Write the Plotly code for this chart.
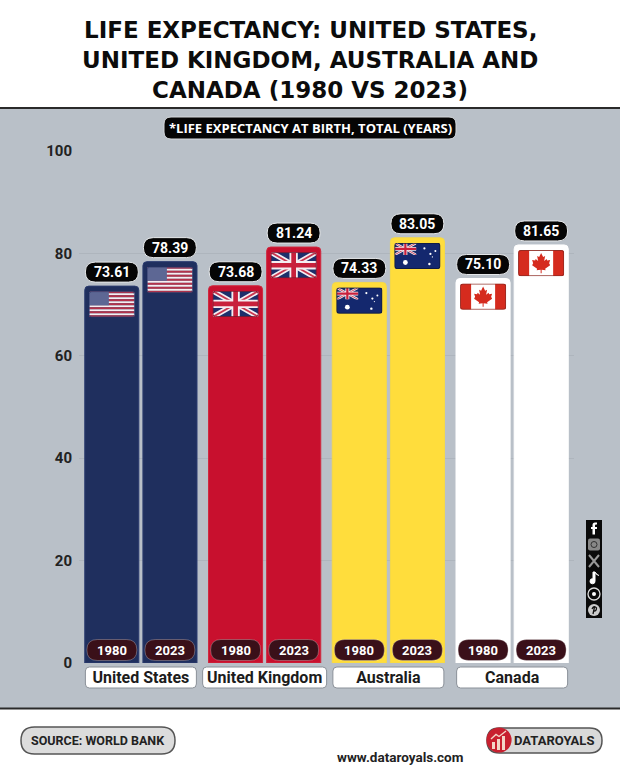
import base64
import plotly.graph_objects as go

W, H = 620, 775

countries = ["United States", "United Kingdom", "Australia", "Canada"]
life_1980 = [73.61, 73.68, 74.33, 75.10]
life_2023 = [78.39, 81.24, 83.05, 81.65]
years = ["1980", "2023"]
bar_colors = ["#1f2f5e", "#c8102e", "#ffdd3c", "#ffffff"]
edge_colors = ["#2c3d70", "#d0283f", "#f5d948", "#ffffff"]
label_widths = [111, 124, 111, 111]
y_ticks = [0, 20, 40, 60, 80, 100]

title_lines = ["LIFE EXPECTANCY: UNITED STATES,", "UNITED KINGDOM, AUSTRALIA AND", "CANADA (1980 VS 2023)"]
subtitle = "*LIFE EXPECTANCY AT BIRTH, TOTAL (YEARS)"
source = "SOURCE: WORLD BANK"
brand = "DATAROYALS"
website = "www.dataroyals.com"

FONT = "Roboto"
BAR_OFFSET = 0.2345


def px(x):
    return x / W


def py(y):
    return 1 - y / H


def rounded(w, h, r, dy=0):
    # rounded rectangle around the anchor, pixel offsets
    x0, x1, y0, y1 = -w / 2, w / 2, dy - h / 2, dy + h / 2
    return (f"M{x0 + r},{y0} L{x1 - r},{y0} Q{x1},{y0} {x1},{y0 + r} L{x1},{y1 - r} Q{x1},{y1} {x1 - r},{y1} "
            f"L{x0 + r},{y1} Q{x0},{y1} {x0},{y1 - r} L{x0},{y0 + r} Q{x0},{y0} {x0 + r},{y0} Z")


def pill(x, y, w, h, r, fill, line, lw=1, xref="x", yref="y", dy=0, layer="above"):
    return dict(type="path", xref=xref, yref=yref, xsizemode="pixel", ysizemode="pixel",
                xanchor=x, yanchor=y, path=rounded(w, h, r, dy), fillcolor=fill,
                line=dict(color=line, width=lw), layer=layer)


def note(x, y, text, size, color, family=FONT, **kw):
    return dict(x=x, y=y, text=f"<b>{text}</b>", showarrow=False, xanchor="center", yanchor="middle",
                font=dict(family=family, size=size, color=color), **kw)


def svg_uri(body, w=46, h=26):
    svg = f'<svg xmlns="http://www.w3.org/2000/svg" width="{w * 4}" height="{h * 4}" viewBox="0 0 {w} {h}">{body}</svg>'
    return "data:image/svg+xml;base64," + base64.b64encode(svg.encode()).decode()


def union_jack(w, h):
    return (f'<rect width="{w}" height="{h}" fill="#1d2f6b"/>'
            f'<path d="M0,0L{w},{h}M{w},0L0,{h}" stroke="#f4eef2" stroke-width="{h * 0.2}"/>'
            f'<path d="M0,0L{w},{h}M{w},0L0,{h}" stroke="#c8364f" stroke-width="{h * 0.07}"/>'
            f'<path d="M{w / 2},0V{h}M0,{h / 2}H{w}" stroke="#f4eef2" stroke-width="{h * 0.32}"/>'
            f'<path d="M{w / 2},0V{h}M0,{h / 2}H{w}" stroke="#c8203c" stroke-width="{h * 0.18}"/>')


def clip_flag(body, edge):
    return (f'<defs><clipPath id="c"><rect width="46" height="26" rx="2.5"/></clipPath></defs>'
            f'<g clip-path="url(#c)">{body}</g>'
            f'<rect x=".4" y=".4" width="45.2" height="25.2" rx="2.5" fill="none" stroke="{edge}" stroke-width=".9"/>')


stripes = "".join(f'<rect y="{k * 2}" width="46" height="2" fill="{"#b5324a" if k % 2 == 0 else "#f6eef0"}"/>' for k in range(13))
flag_us = clip_flag(stripes + '<rect width="20" height="14" fill="#5d6794"/>', "#3a4674")
flag_uk = clip_flag(union_jack(46, 26), "#7c1a2c")
stars = "".join(f'<circle cx="{a}" cy="{b}" r="{c}" fill="#fff"/>' for a, b, c in
                [(11, 19.5, 2.4), (30, 5.5, 1.1), (36, 11, 1.1), (41, 8, 1), (35, 21, 1.2), (38, 14, .6)])
flag_au = clip_flag('<rect width="46" height="26" fill="#14286e"/><svg width="22" height="12" viewBox="0 0 46 26" preserveAspectRatio="none">'
                    + union_jack(46, 26) + '</svg>' + stars, "#101a3a")
leaf = ("M23,3 L25,7 L27,6 L26,11 L28.5,9 L29,10.5 L32,10 L31,13 L32,15 L27,18.5 L27.5,20 L23.5,19.5 L23.5,23 "
        "L22.5,23 L22.5,19.5 L18.5,20 L19,18.5 L14,15 L15,13 L14,10 L17,10.5 L17.5,9 L20,11 L19,6 L21,7 Z")
flag_ca = clip_flag(f'<rect width="46" height="26" fill="#fff"/><rect width="11" height="26" fill="#d52b1e"/>'
                    f'<rect x="35" width="11" height="26" fill="#d52b1e"/><path d="{leaf}" fill="#d52b1e"/>', "#8c2a22")
flags = [flag_us, flag_uk, flag_au, flag_ca]

logo = ('<circle cx="13" cy="13" r="12.6" fill="#c8202f"/>'
        '<rect x="6" y="15" width="3" height="7" fill="#f3d6c8"/><rect x="11" y="12" width="3" height="11" fill="#f3d6c8"/>'
        '<rect x="16" y="9" width="3" height="14" fill="#f3d6c8"/>'
        '<path d="M5,12 L10,7.5 L13,9.5 L20,4" fill="none" stroke="#f3d6c8" stroke-width="1.4"/>')

icons = ('<rect width="16" height="98" fill="#0a0a0a"/>'
         '<path d="M9,14 V8.5 H11 V6.5 H9 V5 Q9,4 10,4 H11 V2 H9 Q6.5,2 6.5,4.5 V6.5 H5 V8.5 H6.5 V14 Z" fill="#fff" transform="translate(0,.5)"/>'
         '<rect x="2" y="18.5" width="12" height="12" rx="2" fill="#888"/><circle cx="8" cy="24.5" r="3" fill="none" stroke="#333"/>'
         '<path d="M3,35 L13,47 M13,35 L3,47" stroke="#999" stroke-width="2"/>'
         '<path d="M9,52 V61 A2.5,2.5 0 1 1 7,58.8 V52 Z M9,52 Q10,55 13,55.5" fill="#fff" stroke="#fff"/>'
         '<circle cx="8" cy="74" r="6" fill="none" stroke="#ddd" stroke-width="1.3"/><circle cx="8" cy="74" r="2" fill="#fff"/>'
         '<circle cx="8" cy="90" r="6" fill="#ccc"/><path d="M7,94 L8.5,87 M6,89 Q8,85 10.5,88 Q10.5,91.5 7.5,91" fill="none" stroke="#111" stroke-width="1.3"/>')

fig = go.Figure()
for values, year in [(life_1980, years[0]), (life_2023, years[1])]:
    fig.add_trace(go.Bar(x=countries, y=values, name=year, marker=dict(
        color=bar_colors, line=dict(color=edge_colors, width=1), cornerradius=4)))

shapes = []
annotations = []
images = []

# panel behind the chart
shapes.append(dict(type="rect", xref="paper", yref="paper", x0=0, x1=1, y0=py(708.5), y1=py(108),
                   fillcolor="#b9c0c8", line=dict(width=0), layer="below"))
for yy in (108, 708.5):
    shapes.append(dict(type="line", xref="paper", yref="paper", x0=0, x1=1, y0=py(yy), y1=py(yy),
                       line=dict(color="#2a2a2a", width=2), layer="below"))

for i, country in enumerate(countries):
    shapes.append(pill(i, py(677.5), label_widths[i], 21, 4, "#ffffff", "#8a9098", xref="x", yref="paper", layer="below"))
    for side, values, year in [(-1, life_1980, years[0]), (1, life_2023, years[1])]:
        pos = i + side * BAR_OFFSET
        val = values[i]
        shapes.append(pill(pos, val, 53, 20, 10, "#050505", "#e6e8ea", dy=14))
        annotations.append(note(pos, val, f"{val:.2f}", 14, "#ffffff", xref="x", yref="y", yshift=14))
        shapes.append(pill(pos, 0, 50, 21, 10.5, "#3a1019", "rgba(255,255,255,0.28)", dy=13))
        annotations.append(note(pos, 0, year, 13, "#ffffff", xref="x", yref="y", yshift=13))
        images.append(dict(source=svg_uri(flags[i]), xref="x", yref="y", x=pos, y=val - 1, sizex=0.372, sizey=5.1,
                           xanchor="center", yanchor="top", sizing="stretch", layer="above"))

# header, subtitle and footer
for line_y, line in zip((30, 60, 90), title_lines):
    annotations.append(note(0.5, py(line_y), line, 23, "#0c0c0c", family="DejaVu Sans", xref="paper", yref="paper"))
shapes.append(pill(px(310), py(128), 292, 22, 7, "#050505", "#d5d8dc", xref="paper", yref="paper"))
annotations.append(note(0.5, py(128), subtitle, 13, "#ffffff", family="Open Sans", xref="paper", yref="paper"))
shapes.append(pill(px(98), py(740.5), 154, 27, 13.5, "#dcdcdc", "#555555", lw=1.5, xref="paper", yref="paper", layer="below"))
annotations.append(note(px(98), py(740.5), source, 12.5, "#222222", xref="paper", yref="paper"))
shapes.append(pill(px(544.5), py(740.5), 115, 25, 12.5, "#d9d9d9", "#555555", lw=1.5, xref="paper", yref="paper", layer="below"))
annotations.append(note(px(554), py(740.5), brand, 13, "#222222", xref="paper", yref="paper"))
annotations.append(note(px(399.5), py(757), website, 13.5, "#222222", xref="paper", yref="paper"))
images.append(dict(source=svg_uri(logo, 26, 26), xref="paper", yref="paper", x=px(486), y=py(727), sizex=26 / W, sizey=26 / H,
                   xanchor="left", yanchor="top", sizing="stretch", layer="above"))
images.append(dict(source=svg_uri(icons, 16, 98), xref="paper", yref="paper", x=px(586), y=py(520), sizex=16 / W, sizey=98 / H,
                   xanchor="left", yanchor="top", sizing="stretch", layer="above"))

fig.update_layout(
    width=W, height=H,
    margin=dict(l=0, r=0, t=0, b=0, autoexpand=False),
    paper_bgcolor="#ffffff",
    plot_bgcolor="rgba(0,0,0,0)",
    barmode="group",
    bargap=0.06,
    bargroupgap=0.07,
    showlegend=False,
    shapes=shapes,
    annotations=annotations,
    images=images,
    xaxis=dict(domain=[px(79), px(574)], range=[-0.5, 3.5], showgrid=False, showline=False, zeroline=False, ticks="",
               tickfont=dict(family=FONT, size=16, color="#1c1c1c", weight="bold"), ticklabelstandoff=3),
    yaxis=dict(domain=[py(663), py(151)], range=[0, 100], tickvals=y_ticks, gridcolor="#aeb5bd", gridwidth=1,
               zeroline=False, showline=False, ticks="", ticklabelstandoff=6,
               tickfont=dict(family=FONT, size=15, color="#222222", weight="bold")),
)

fig.write_html("out.html", config=dict(displayModeBar=False), post_script="document.body.style.margin='0';")
